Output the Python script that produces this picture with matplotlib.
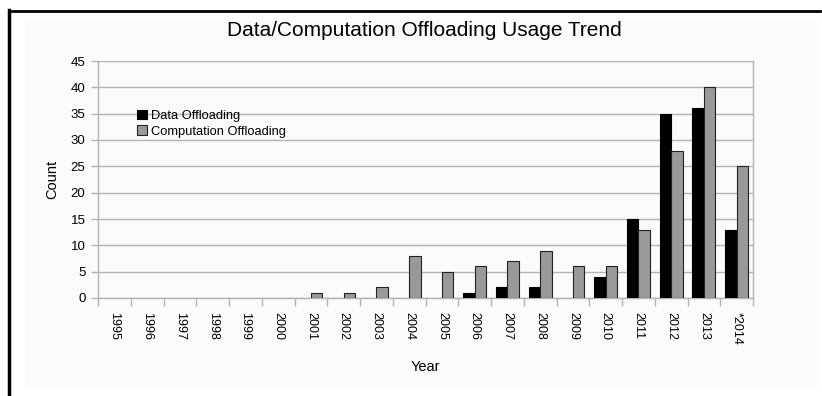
import matplotlib
matplotlib.use("Agg")
import matplotlib.pyplot as plt
import numpy as np
from matplotlib.patches import Rectangle
from matplotlib.lines import Line2D
from matplotlib.ticker import FixedLocator

years = ["1995", "1996", "1997", "1998", "1999", "2000", "2001", "2002", "2003",
         "2004", "2005", "2006", "2007", "2008", "2009", "2010", "2011", "2012",
         "2013", "*2014"]
data_offloading = [0, 0, 0, 0, 0, 0, 0, 0, 0, 0, 0, 1, 2, 2, 0, 4, 15, 35, 36, 13]
computation_offloading = [0, 0, 0, 0, 0, 0, 1, 1, 2, 8, 5, 6, 7, 9, 6, 6, 13, 28, 40, 25]

plt.rcParams['font.family'] = ['Liberation Sans', 'DejaVu Sans']

fig = plt.figure(figsize=(8.22, 3.96), dpi=100)
fig.patch.set_facecolor('white')

# faint panel behind the chart and the black frame lines
fig.patches.append(Rectangle((25 / 822, 1 - 388 / 396), (817 - 25) / 822, (388 - 20) / 396,
                             transform=fig.transFigure, facecolor='#fbfbfb',
                             edgecolor='none', zorder=-10))
fig.lines.append(Line2D([9 / 822, 9 / 822], [0, 1 - 10 / 396], transform=fig.transFigure,
                        color='black', linewidth=2.5))
fig.lines.append(Line2D([9 / 822, 820 / 822], [1 - 11 / 396, 1 - 11 / 396],
                        transform=fig.transFigure, color='black', linewidth=2.0))

ax = fig.add_axes([98 / 822, 98 / 396, 655 / 822, 237 / 396])
ax.set_facecolor('none')

x = np.arange(len(years))
w = 0.35
grid_c = '#b3b3b3'

d = np.array(data_offloading)
c = np.array(computation_offloading)
md = d > 0
mc = c > 0
ax.bar(x[md] - w / 2, d[md], width=w, color='black', edgecolor='black', linewidth=0.8,
       zorder=3, label='Data Offloading')
ax.bar(x[mc] + w / 2, c[mc], width=w, color='#999999', edgecolor='#222222', linewidth=0.8,
       zorder=3, label='Computation Offloading')

ax.set_xlim(-0.5, len(years) - 0.5)
ax.set_ylim(0, 45)
ax.set_yticks(np.arange(0, 46, 5))
ax.yaxis.grid(True, color=grid_c, linewidth=1.0, zorder=0)
ax.set_axisbelow(True)

ax.set_xticks(x)
ax.set_xticklabels(years, rotation=270, fontsize=9)
ax.xaxis.set_minor_locator(FixedLocator(np.arange(-0.5, len(years), 1.0)))
ax.tick_params(axis='x', which='major', length=0, pad=10)
ax.tick_params(axis='x', which='minor', length=6, color=grid_c, width=1.0)
ax.tick_params(axis='y', length=5, color=grid_c, width=1.0, labelsize=9.5, pad=4)

for s in ['left', 'bottom', 'right']:
    ax.spines[s].set_color(grid_c)
    ax.spines[s].set_linewidth(1.0)
ax.spines['top'].set_visible(False)

ax.set_xlabel('Year', fontsize=10.5, labelpad=11)
ax.set_ylabel('Count', fontsize=10.5, labelpad=8)
fig.text(424 / 822, 1 - 31 / 396, 'Data/Computation Offloading Usage Trend', fontsize=15,
         ha='center', va='center')

leg = ax.legend(loc='upper left', bbox_to_anchor=(0.052, 0.815), frameon=False, fontsize=9.3,
                handlelength=0.75, handleheight=0.75, handletextpad=0.35, labelspacing=0.25,
                borderaxespad=0)

fig.savefig('out.png', dpi=100)
